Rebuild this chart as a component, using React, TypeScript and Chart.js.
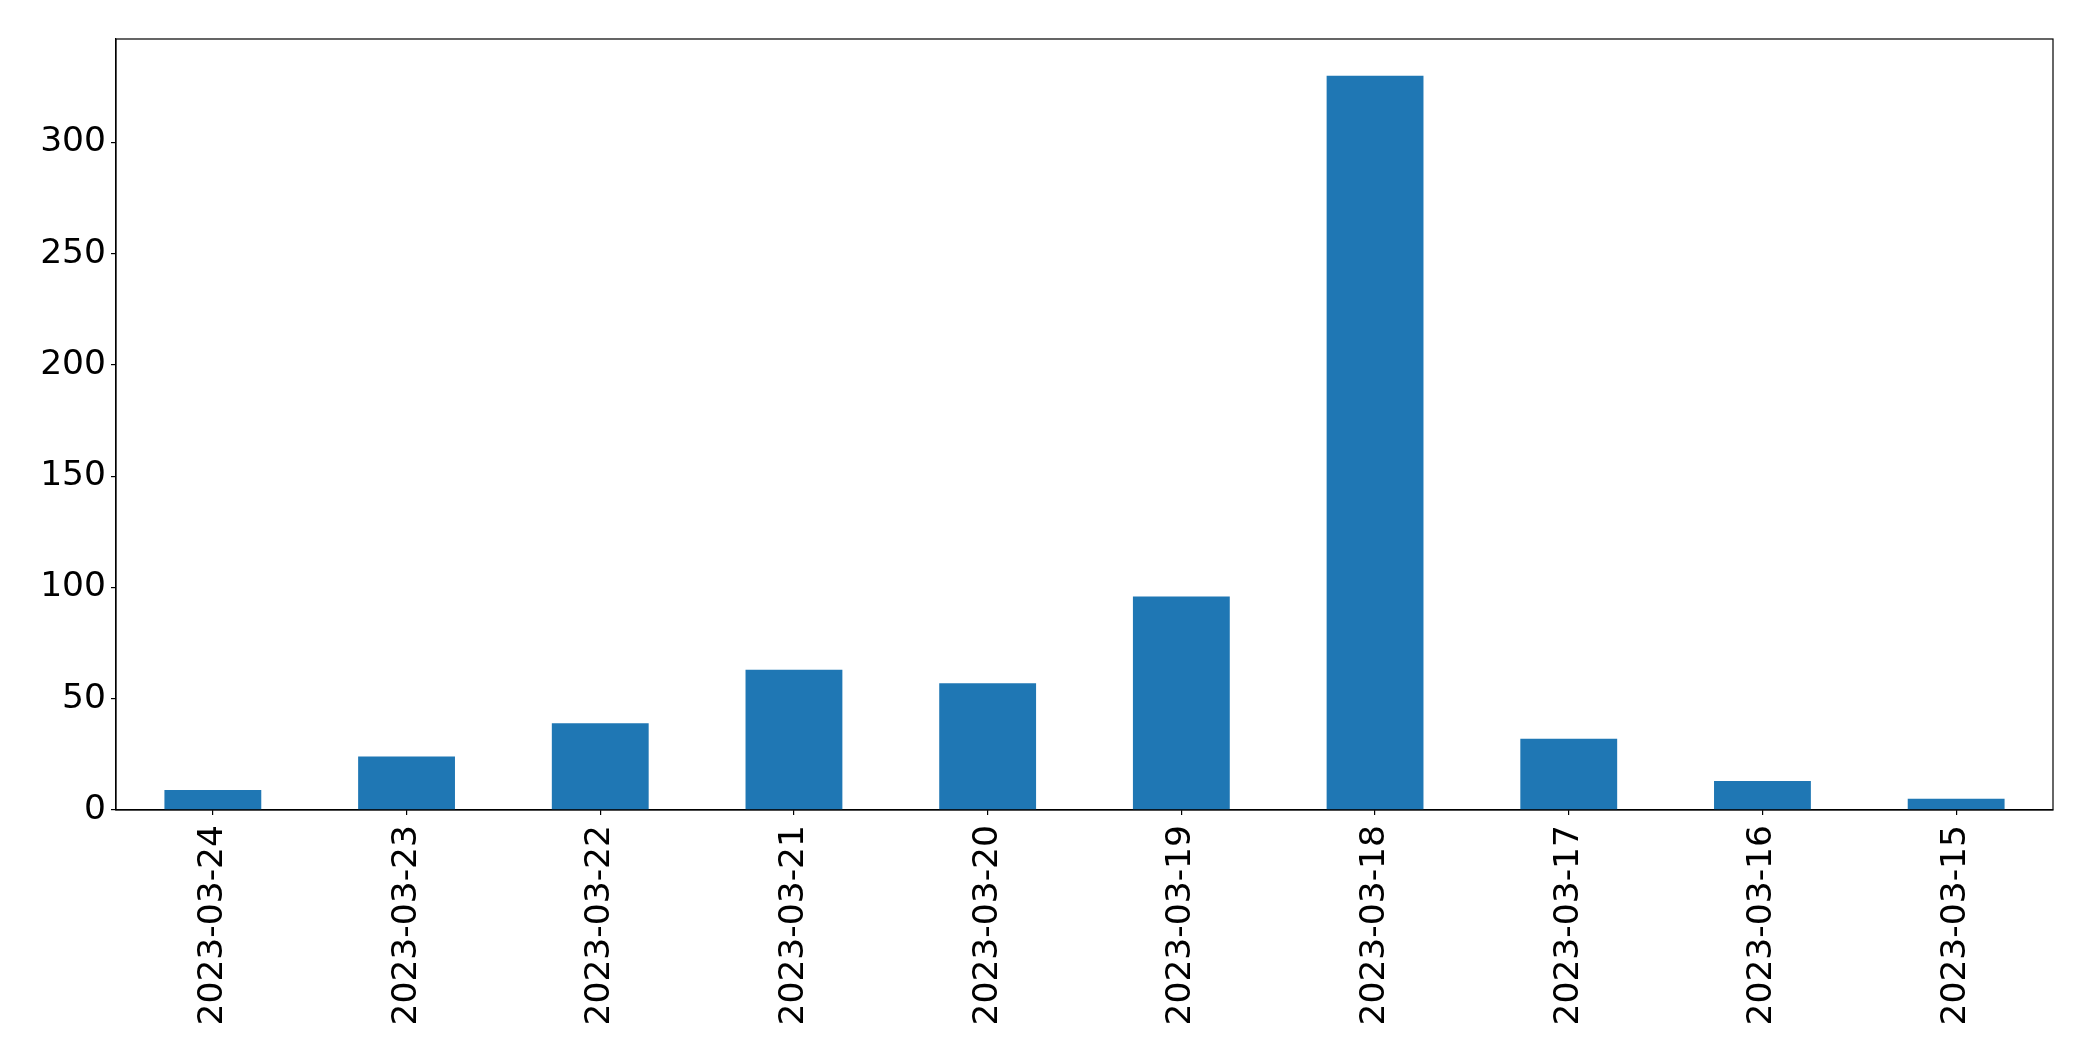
import React, { useEffect, useRef } from "react";
import { Chart, registerables } from "chart.js";

Chart.register(...registerables);

const categories = [
  "2023-03-24",
  "2023-03-23",
  "2023-03-22",
  "2023-03-21",
  "2023-03-20",
  "2023-03-19",
  "2023-03-18",
  "2023-03-17",
  "2023-03-16",
  "2023-03-15",
];
const counts = [9, 24, 39, 63, 57, 96, 330, 32, 13, 5];
const yTickStep = 50;
const yMax = 346.5;

const frame = {
  id: "frame",
  afterDraw(chart: any) {
    const { ctx, chartArea } = chart;
    ctx.save();
    ctx.strokeStyle = "#000";
    ctx.lineWidth = 1.2;
    ctx.strokeRect(chartArea.left, chartArea.top, chartArea.right - chartArea.left, chartArea.bottom - chartArea.top);
    ctx.restore();
  },
};

export default function App() {
  const ref = useRef<HTMLCanvasElement>(null);
  useEffect(() => {
    const font = { family: "'DejaVu Sans', sans-serif", size: 34.5 };
    const chart = new Chart(ref.current!, {
      type: "bar",
      data: {
        labels: categories,
        datasets: [
          {
            data: counts,
            backgroundColor: "#1f77b4",
            categoryPercentage: 1,
            barPercentage: 0.5,
          },
        ],
      },
      options: {
        animation: false,
        responsive: true,
        maintainAspectRatio: false,
        layout: { padding: { left: 0, top: 39, right: 40, bottom: 0 } },
        plugins: { legend: { display: false }, tooltip: { enabled: false } },
        scales: {
          x: {
            grid: { offset: false, drawOnChartArea: false, drawTicks: true, tickLength: 5, color: "#000", lineWidth: 1.2 },
            border: { display: true, color: "#000", width: 1.2 },
            ticks: { font, color: "#000", minRotation: 90, maxRotation: 90, autoSkip: false, padding: 10 },
            afterFit(scale: any) {
              scale.height = 251;
            },
          },
          y: {
            min: 0,
            max: yMax,
            grid: { drawOnChartArea: false, drawTicks: true, tickLength: 5, color: "#000", lineWidth: 1.2 },
            border: { display: true, color: "#000", width: 1.2 },
            ticks: { font, color: "#000", stepSize: yTickStep, includeBounds: false, padding: 5 },
            afterFit(scale: any) {
              scale.width = 116;
            },
          },
        },
      },
      plugins: [frame],
    });
    return () => chart.destroy();
  }, []);
  return (
    <div style={{ position: "absolute", left: 0, top: 0, width: 2093, height: 1061, background: "#fff" }}>
      <canvas ref={ref} />
    </div>
  );
}
